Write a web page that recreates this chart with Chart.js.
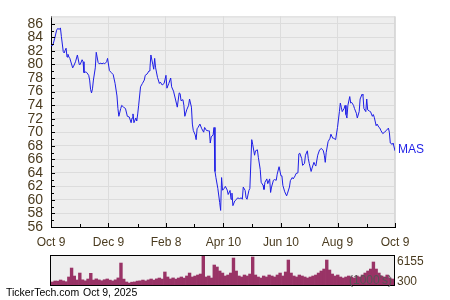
<!DOCTYPE html>
<html lang="en">
<head>
    <meta charset="UTF-8">
    <title>MAS price chart</title>
    <script src="https://cdn.jsdelivr.net/npm/chart.js"></script>
    <style>
        body { margin: 0; background: #fff; }
        #wrap { position: relative; width: 450px; height: 300px; }
        #priceChart { position: absolute; left: 0; top: 0; }
        #volumeChart { position: absolute; left: 0; top: 250px; }
    </style>
</head>
<body>
    <div id="wrap">
        <canvas id="priceChart" width="450" height="250"></canvas>
        <canvas id="volumeChart" width="450" height="50"></canvas>
    </div>

    <script>
        // days after Oct 9, 2024 and closing price
        const days = [0, 2, 4, 6, 7, 9, 10, 11, 13, 14, 15, 16, 17, 18, 19, 20, 23, 24, 26, 28,
            30, 31, 33, 34, 35, 37, 38, 40, 41, 42, 43, 44, 45, 47, 48, 50, 51, 53, 54, 56,
            57, 59, 60, 62, 64, 66, 68, 70, 71, 72, 74, 75, 77, 79, 81, 83, 85, 86, 87, 88,
            90, 91, 92, 93, 95, 97, 99, 100, 102, 104, 105, 106, 108, 109, 110, 111, 113, 115, 116, 118,
            120, 122, 123, 125, 127, 128, 130, 132, 134, 136, 137, 138, 140, 141, 142, 144, 146, 147, 149, 150,
            151, 153, 154, 155, 156, 158, 160, 162, 163, 165, 167, 168, 169, 170, 172, 173, 174, 175, 177, 179,
            180, 181, 182, 184, 185, 187, 188, 190, 191, 192, 193, 195, 197, 198, 200, 202, 203, 204, 206, 207,
            208, 210, 211, 213, 214, 216, 217, 219, 220, 222, 223, 225, 226, 227, 229, 230, 232, 233, 234, 236,
            237, 239, 240, 242, 244, 245, 246, 248, 250, 251, 253, 254, 256, 257, 259, 260, 262, 263, 264, 266,
            267, 269, 270, 272, 273, 274, 276, 277, 279, 280, 281, 283, 285, 287, 289, 290, 291, 292, 294, 296,
            297, 299, 300, 302, 304, 306, 307, 308, 309, 311, 312, 313, 314, 315, 317, 318, 319, 321, 322, 324,
            325, 327, 328, 330, 331, 332, 334, 335, 336, 338, 339, 341, 342, 343, 345, 346, 348, 349, 350, 352,
            354, 356, 358, 359, 360, 362, 363, 365];
        const closes = [82.76, 82.85, 83.9, 85.07, 85.3, 85.2, 85.4, 84.15, 81.9, 81.7, 82.1, 82.4, 81.1, 81.5, 81.1, 80.9, 79.5, 79.75, 80.4, 81.4,
            80.0, 80.0, 80.7, 80.4, 78.8, 78.9, 78.8, 78.4, 77.7, 76.3, 75.8, 76.4, 77.7, 79.5, 81.8, 80.3, 80.1, 80.2, 80.1, 80.2,
            80.1, 80.4, 80.9, 79.1, 78.8, 78.5, 77.2, 75.35, 73.5, 72.35, 73.5, 73.96, 73.7, 73.5, 72.35, 72.25, 71.4, 72.1, 72.7, 71.4,
            72.1, 71.65, 72.7, 73.96, 76.7, 77.2, 77.7, 78.4, 78.6, 79.05, 79.5, 81.4, 80.0, 79.3, 80.9, 79.5, 78.1, 77.2, 77.4, 76.97,
            77.2, 78.4, 76.5, 77.2, 78.0, 76.7, 76.05, 74.9, 73.7, 75.8, 75.7, 74.65, 74.8, 73.96, 72.35, 73.3, 73.96, 74.9, 73.7, 71.2,
            70.25, 69.6, 68.9, 70.5, 70.7, 71.2, 70.5, 70.0, 70.7, 70.25, 70.2, 70.2, 68.4, 69.3, 69.6, 70.7, 64.2, 63.3, 61.7, 59.6,
            58.45, 63.3, 61.45, 61.7, 62.0, 61.45, 60.8, 61.4, 60.1, 61.0, 59.15, 59.85, 60.1, 60.3, 60.2, 60.3, 60.1, 61.9, 61.4, 60.3,
            60.1, 61.4, 61.7, 68.9, 68.2, 66.6, 67.25, 67.4, 66.3, 64.5, 62.6, 62.15, 61.55, 62.6, 63.1, 62.4, 63.1, 61.1, 61.9, 62.9,
            63.0, 62.9, 63.8, 64.9, 63.55, 63.55, 62.15, 61.2, 60.6, 61.0, 61.9, 62.85, 63.3, 63.1, 63.55, 63.9, 64.0, 66.8, 66.9, 66.1,
            65.1, 65.4, 66.6, 67.25, 66.1, 65.4, 64.2, 64.7, 65.55, 65.2, 65.0, 66.6, 67.4, 67.6, 67.25, 66.6, 65.55, 67.0, 68.6, 69.1,
            69.7, 69.1, 69.1, 68.9, 70.7, 73.04, 74.3, 73.7, 73.04, 73.5, 73.96, 72.6, 72.1, 73.96, 75.26, 74.3, 74.4, 73.96, 73.5, 72.8,
            72.1, 73.04, 74.9, 75.6, 75.45, 73.5, 73.04, 74.9, 73.3, 73.1, 73.04, 72.35, 72.6, 72.2, 70.96, 71.2, 70.7, 70.6, 70.25, 69.8,
            70.0, 70.3, 70.6, 70.0, 68.4, 68.2, 68.4, 67.25];

        // volume in thousands, roughly every second trading day
        const volumes = [640, 850, 820, 1060, 870, 700, 1700, 3600, 1900, 1060,
            2540, 1100, 880, 1270, 2480, 1050, 1300, 1080, 900, 1120,
            1280, 1040, 860, 1100, 1500, 4660, 1250, 640, 420, 600,
            650, 830, 880, 1050, 860, 1080, 1270, 1040, 1300, 1480,
            1260, 2760, 1700, 1280, 1500, 1250, 1480, 1700, 1460, 1910,
            2540, 1700, 1900, 2120, 2330, 6155, 1700, 1910, 1480, 4240,
            3820, 2970, 2540, 1910, 2120, 2540, 5720, 2970, 1910, 1700,
            2120, 1910, 2330, 5940, 2120, 1700, 1480, 1910, 1700, 2120,
            1910, 1700, 2120, 2540, 1910, 2760, 5300, 2540, 1910, 1700,
            2120, 1910, 1700, 1480, 1700, 1910, 2120, 2540, 2970, 3390,
            5300, 3180, 2330, 1910, 2120, 1700, 1480, 1700, 1910, 1700,
            1480, 1910, 1700, 2120, 2540, 2970, 3390, 4880, 3390, 2540,
            1910, 1700, 2120, 1480, 1270];

        const tickDays = [0, 61, 122, 183, 244, 304, 365];
        const tickLabels = ['Oct 9', 'Dec 9', 'Feb 8', 'Apr 10', 'Jun 10', 'Aug 9', 'Oct 9'];
        const minorDays = [31, 92, 152, 213, 274, 335];
        const yTicks = [56, 58, 60, 62, 64, 66, 68, 70, 72, 74, 76, 78, 80, 82, 84, 86];
        const volumeTicks = [300, 6155];

        const lineColor = '#1e1ee6';
        const labelColor = '#4a3b1f';
        const fontFamily = '"Liberation Sans", Arial, sans-serif';

        Chart.defaults.font.family = fontFamily;
        Chart.defaults.font.size = 12;
        Chart.defaults.color = labelColor;

        // grey plot background, thin light frame, inward tick marks and the symbol label
        const priceDecor = {
            id: 'priceDecor',
            beforeDraw(chart) {
                const { ctx, chartArea: a } = chart;
                ctx.save();
                ctx.fillStyle = '#eeeeee';
                ctx.fillRect(a.left, a.top, a.right - a.left, a.bottom - a.top);
                ctx.restore();
            },
            beforeDatasetsDraw(chart) {
                const { ctx, chartArea: a } = chart;
                ctx.save();
                ctx.strokeStyle = '#d8d8d8';
                ctx.lineWidth = 1;
                ctx.beginPath();
                ctx.moveTo(a.left, a.top + 0.5);
                ctx.lineTo(a.right, a.top + 0.5);
                ctx.moveTo(a.right - 0.5, a.top);
                ctx.lineTo(a.right - 0.5, a.bottom);
                ctx.stroke();
                ctx.restore();
            },
            afterDraw(chart) {
                const { ctx, chartArea: a, scales: { x, y } } = chart;
                ctx.save();
                ctx.strokeStyle = '#000';
                ctx.lineWidth = 1;
                ctx.beginPath();
                for (let v = 56; v <= 86; v++) {
                    const py = Math.round(y.getPixelForValue(v)) + 0.5;
                    ctx.moveTo(a.left, py);
                    ctx.lineTo(a.left + (v % 2 === 0 ? 4 : 3), py);
                }
                tickDays.forEach(d => {
                    const px = Math.round(x.getPixelForValue(d)) + 0.5;
                    ctx.moveTo(px, a.bottom);
                    ctx.lineTo(px, a.bottom - 4);
                });
                minorDays.forEach(d => {
                    const px = Math.round(x.getPixelForValue(d)) + 0.5;
                    ctx.moveTo(px, a.bottom);
                    ctx.lineTo(px, a.bottom - 3);
                });
                ctx.stroke();

                const last = closes.length - 1;
                ctx.fillStyle = lineColor;
                ctx.font = '12px ' + fontFamily;
                ctx.textBaseline = 'middle';
                ctx.fillText('MAS', a.right + 3, y.getPixelForValue(closes[last]) - 1);
                ctx.restore();
            }
        };

        new Chart(document.getElementById('priceChart'), {
            type: 'line',
            data: {
                datasets: [{
                    data: days.map((d, i) => ({ x: d, y: closes[i] })),
                    borderColor: lineColor,
                    borderWidth: 1,
                    pointRadius: 0,
                    tension: 0,
                    fill: false
                }]
            },
            options: {
                responsive: false,
                animation: false,
                devicePixelRatio: 1,
                layout: { padding: { top: 2, right: 55, left: 0, bottom: 0 } },
                plugins: { legend: { display: false }, tooltip: { enabled: false } },
                scales: {
                    x: {
                        type: 'linear',
                        min: 0,
                        max: 365,
                        afterBuildTicks: scale => { scale.ticks = tickDays.map(v => ({ value: v })); },
                        afterFit: scale => { scale.height = 23; },
                        ticks: {
                            padding: 8,
                            maxRotation: 0,
                            autoSkip: false,
                            callback: (value) => tickLabels[tickDays.indexOf(value)]
                        },
                        grid: { color: '#dcdcdc', drawTicks: false },
                        border: { color: '#000' }
                    },
                    y: {
                        min: 56,
                        max: 87.1,
                        afterBuildTicks: scale => { scale.ticks = yTicks.map(v => ({ value: v })); },
                        afterFit: scale => { scale.width = 51; },
                        ticks: { padding: 8, autoSkip: false, font: { size: 14 } },
                        grid: { color: '#dcdcdc', drawTicks: false },
                        border: { color: '#000' }
                    }
                }
            },
            plugins: [priceDecor]
        });

        // volume strip: boxed background, right-hand range labels and footer text
        const volumeDecor = {
            id: 'volumeDecor',
            beforeDraw(chart) {
                const { ctx, chartArea: a } = chart;
                ctx.save();
                ctx.fillStyle = '#eeeeee';
                ctx.fillRect(a.left, a.top, a.right - a.left, a.bottom - a.top);
                ctx.restore();
            },
            afterDraw(chart) {
                const { ctx, chartArea: a, scales: { y } } = chart;
                ctx.save();
                ctx.strokeStyle = '#000';
                ctx.lineWidth = 1;
                ctx.strokeRect(a.left - 0.5, a.top - 0.5, a.right - a.left + 1, a.bottom - a.top + 1);

                ctx.font = '12px ' + fontFamily;
                ctx.textBaseline = 'middle';
                ctx.fillStyle = '#555';
                ctx.textAlign = 'right';
                ctx.fillText("(1000's)", a.right - 2, a.bottom - 4);

                ctx.textAlign = 'left';
                ctx.fillStyle = labelColor;
                ctx.fillText(String(volumeTicks[1]), a.right + 3, y.getPixelForValue(volumeTicks[1]) + 6);
                ctx.fillText(String(volumeTicks[0]), a.right + 3, y.getPixelForValue(volumeTicks[0]) - 2);

                ctx.font = '10.5px ' + fontFamily;
                ctx.fillStyle = '#000';
                ctx.fillText('TickerTech.com', 6, 43.5);
                ctx.fillText('Oct 9, 2025', 83, 43.5);
                ctx.restore();
            }
        };

        new Chart(document.getElementById('volumeChart'), {
            type: 'bar',
            data: {
                labels: volumes.map((v, i) => i),
                datasets: [{
                    data: volumes,
                    backgroundColor: '#993366',
                    borderWidth: 0,
                    barPercentage: 1,
                    categoryPercentage: 1
                }]
            },
            options: {
                responsive: false,
                animation: false,
                devicePixelRatio: 1,
                layout: { padding: { top: 6, right: 56, left: 51, bottom: 15 } },
                plugins: { legend: { display: false }, tooltip: { enabled: false } },
                scales: {
                    x: { display: false },
                    y: { display: false, min: 0, max: 6155 }
                }
            },
            plugins: [volumeDecor]
        });
    </script>
</body>
</html>
